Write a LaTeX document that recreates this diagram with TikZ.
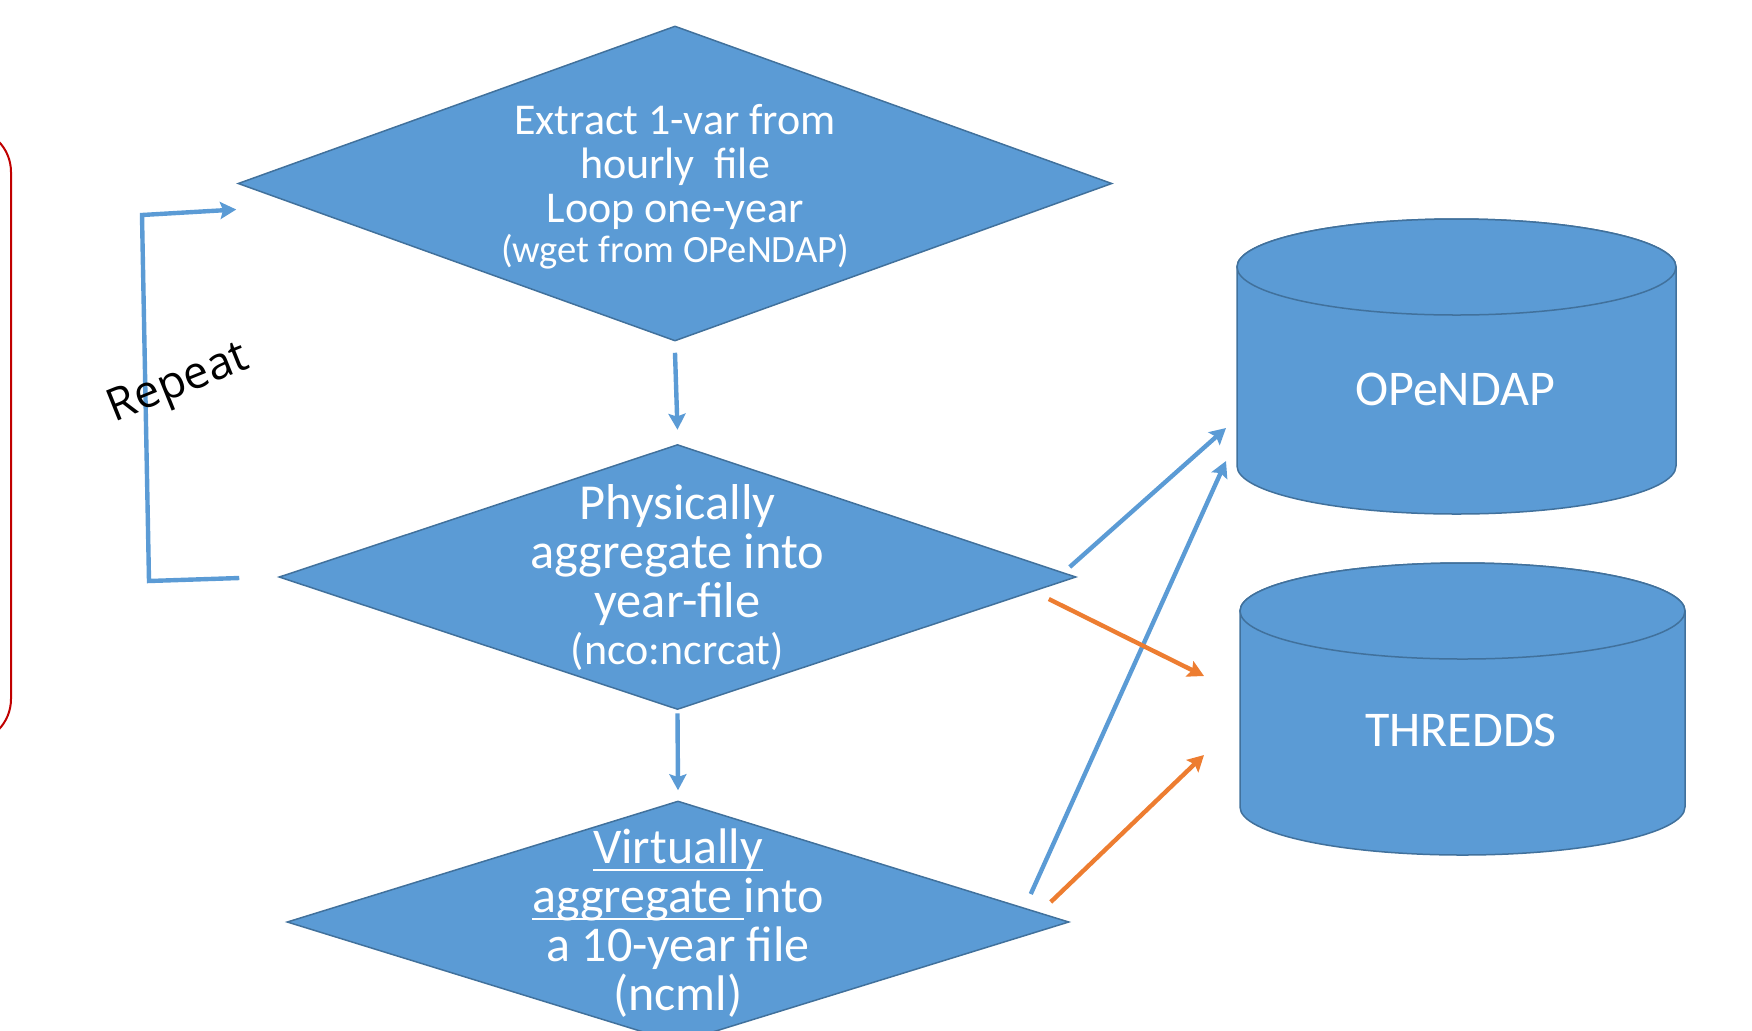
\documentclass[tikz,border=0pt]{standalone}
\usepackage{fontspec}
\setmainfont{Carlito}
\newfontfamily\repfont{Open Sans}
\usetikzlibrary{shapes.geometric,arrows.meta,calc}
\definecolor{boxblue}{HTML}{5B9BD5}
\definecolor{boxedge}{HTML}{41719C}
\definecolor{flowblue}{HTML}{5B9BD5}
\definecolor{floworange}{HTML}{ED7D31}
\definecolor{framered}{HTML}{C00000}
% underline drawn as a white bar just below the baseline
\newcommand\ulbar[1]{\setbox0\hbox{#1}\rlap{\rule[-0.16em]{\wd0}{0.055em}}\box0}
\begin{document}
\begin{tikzpicture}[x=0.5pt,y=-0.5pt,
  stepnode/.style={diamond, fill=boxblue, draw=boxedge, line width=0.75pt, inner sep=0pt},
  lbl/.style={text=white, align=center, inner sep=0pt},
  tip/.style={-{Stealth[length=8pt,width=8.5pt,inset=1.4pt]}},
  bluearrow/.style={draw=flowblue, line width=2.2pt, tip},
  orangearrow/.style={draw=floworange, line width=2.2pt, tip},
  loopline/.style={draw=flowblue, line width=2.2pt, tip},
  cyl/.style={fill=boxblue, draw=boxedge, line width=0.75pt}]
\useasboundingbox (0,0) rectangle (1752,1030);
\clip (0,0) rectangle (1752,1030);

% red frame on the left
\draw[framered, line width=1pt, rounded corners=22pt] (-120,128) rectangle (11,743);

% processing steps
\node[stepnode, minimum width=437pt, minimum height=157.5pt] (d1) at (675,183.5) {};
\node[stepnode, minimum width=398.5pt, minimum height=132.5pt] (d2) at (677.5,577) {};
\node[stepnode, minimum width=391pt, minimum height=121pt] (d3) at (678,922) {};

\node[lbl, font=\fontsize{22}{22}\selectfont] (t1) at ($(d1)+(0,3)$)
  {Extract 1-var from\\hourly~~file\\Loop one-year\\[-2pt]{\fontsize{19.3}{19.5}\selectfont (wget from OPeNDAP)}};
\node[lbl, font=\fontsize{25.2}{24.5}\selectfont] (t2) at ($(d2)+(0,1)$)
  {Physically\\aggregate into\\year-file\\[-1pt]{\fontsize{22}{23}\selectfont (nco:ncrcat)}};
\node[lbl, font=\fontsize{25}{24.5}\selectfont] (t3) at ($(d3)+(0,1)$)
  {\ulbar{Virtually}\\\ulbar{aggregate }into\\a 10-year file\\(ncml)};

% data servers
\path[cyl] (1237,267) -- (1237,466)
  arc[start angle=180,end angle=0,x radius=219.5,y radius=48] -- (1676,267)
  arc[start angle=0,end angle=-180,x radius=219.5,y radius=48] -- cycle;
\draw[cyl] (1456.5,267) ellipse[x radius=219.5, y radius=48];
\node[lbl, font=\fontsize{25}{25}\selectfont] (opendap) at (1455,389) {OPeNDAP};

\path[cyl] (1240,611) -- (1240,807)
  arc[start angle=180,end angle=0,x radius=222.5,y radius=48] -- (1685,611)
  arc[start angle=0,end angle=-180,x radius=222.5,y radius=48] -- cycle;
\draw[cyl] (1462.5,611) ellipse[x radius=222.5, y radius=48];
\node[lbl, font=\fontsize{25}{25}\selectfont] (thredds) at (1461,730) {THREDDS};

% flow between steps
\draw[bluearrow] ($(d1.south)+(0,11)$) -- ($(d2.north)+(0,-14)$);
\draw[bluearrow] ($(d2.south)+(0,3)$) -- ($(d3.north)+(0,-10)$);

% repeat loop
\coordinate (lpb) at (149,581);
\coordinate (lpt) at (142,215);
\draw[loopline] ($(d2.west)+(-39,1)$) -- (lpb) -- (lpt) -- ($(d1.west)+(-1,26)$);
\node[font=\repfont\fontsize{22.5}{22.5}\selectfont, rotate=22, inner sep=0pt] (rep) at (179,385) {Repeat};

% publishing to the servers
\draw[bluearrow] ($(d2.east)+(-7,-10)$) -- ($(opendap)+(-229,39)$);
\draw[bluearrow] ($(d3.east)+(-39,-28)$) -- ($(opendap)+(-229,72)$);
\draw[orangearrow] ($(d2.east)+(-28,22)$) -- ($(thredds)+(-257,-54)$);
\draw[orangearrow] ($(d3.east)+(-19,-20)$) -- ($(thredds)+(-257,25)$);
\end{tikzpicture}
\end{document}
